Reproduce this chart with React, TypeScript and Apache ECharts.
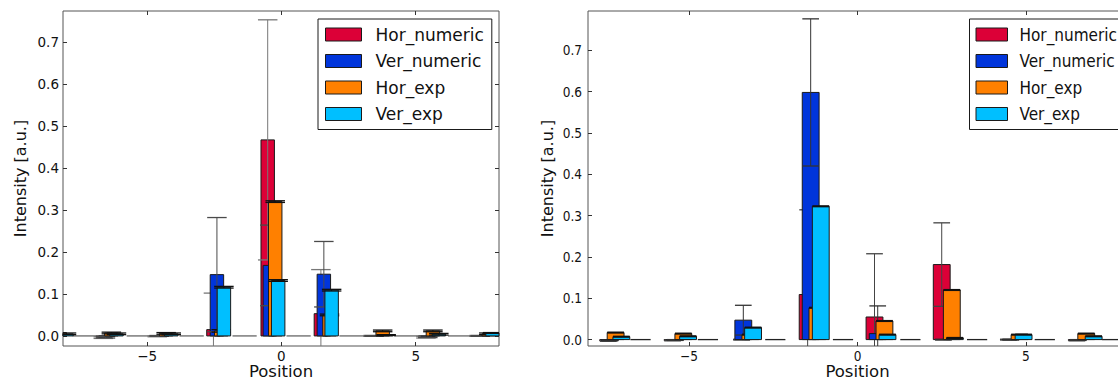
import React, { useEffect, useRef } from "react";
import * as echarts from "echarts";

// ---------- shared ----------
const SERIES_NAMES = ["Hor_numeric", "Ver_numeric", "Hor_exp", "Ver_exp"];
const COLORS = ["#DC0037", "#0035DB", "#FF8000", "#00BFFF"];
const X_TICKS = [-5, 0, 5];
const Y_TICKS = [0, 0.1, 0.2, 0.3, 0.4, 0.5, 0.6, 0.7];
const X_NAME = "Position";
const Y_NAME = "Intensity [a.u.]";

// ---------- left panel (x = bar left edge, v = value, e = error) ----------
const L_HN_X = [-8.74, -6.88, -4.87, -2.78, -0.76, 1.22, 3.15, 5.13, 7.1];
const L_HN_V = [0.003, -0.004, -0.001, 0.015, 0.467, 0.053, 0.0, -0.003, 0.0];
const L_HN_E = [0.002, 0.002, 0.001, 0.087, 0.286, 0.105, 0.001, 0.002, 0.001];
const L_VN_X = [-8.7, -6.8, -4.8, -2.65, -0.68, 1.33, 3.2, 5.2, 7.15];
const L_VN_V = [0.002, -0.003, 0.0, 0.146, 0.168, 0.147, 0.0, -0.002, 0.0];
const L_VN_E = [0.002, 0.002, 0.001, 0.136, 0.096, 0.078, 0.001, 0.002, 0.001];
const L_HE_X = [-8.5, -6.58, -4.54, -2.49, -0.48, 1.54, 3.52, 5.39, 7.47];
const L_HE_V = [0.008, 0.007, 0.006, 0.012, 0.32, 0.05, 0.012, 0.012, 0.005];
const L_HE_E = [0.002, 0.002, 0.002, 0.003, 0.002, 0.002, 0.002, 0.002, 0.002];
const L_VE_X = [-8.25, -6.39, -4.35, -2.39, -0.37, 1.62, 3.65, 5.61, 7.61];
const L_VE_V = [0.005, 0.005, 0.005, 0.116, 0.132, 0.109, 0.002, 0.004, 0.007];
const L_VE_E = [0.002, 0.002, 0.002, 0.002, 0.002, 0.002, 0.001, 0.002, 0.001];
const L_ZERO_X = [-7.77, -5.76, -3.79, -1.82, 0.19, 2.16, 4.2, 6.2];
const L_ZERO_V = [0, 0, 0, 0, 0, 0, 0, 0];

// ---------- right panel ----------
const R_HN_X = [-7.65, -5.74, -3.69, -1.73, 0.255, 2.25, 4.23, 6.26];
const R_HN_V = [-0.003, -0.002, 0.0, 0.109, 0.0547, 0.1815, 0.0, -0.002];
const R_HN_E = [0.001, 0.001, 0.001, 0.205, 0.153, 0.101, 0.001, 0.001];
const R_VN_X = [-7.6, -5.66, -3.64, -1.64, 0.35, 2.3, 4.3, 6.3];
const R_VN_V = [-0.002, -0.001, 0.047, 0.598, 0.0145, 0.0, 0.0, -0.001];
const R_VN_E = [0.001, 0.001, 0.036, 0.178, 0.067, 0.001, 0.001, 0.001];
const R_HE_X = [-7.43, -5.42, -3.43, -1.44, 0.55, 2.55, 4.56, 6.54];
const R_HE_V = [0.017, 0.0145, 0.012, 0.077, 0.045, 0.12, 0.012, 0.0145];
const R_HE_E = [0.001, 0.001, 0.001, 0.001, 0.001, 0.001, 0.001, 0.001];
const R_VE_X = [-7.26, -5.28, -3.35, -1.34, 0.64, 2.64, 4.68, 6.76];
const R_VE_V = [0.007, 0.008, 0.029, 0.3225, 0.012, 0.004, 0.012, 0.008];
const R_VE_E = [0.001, 0.001, 0.001, 0.001, 0.001, 0.001, 0.001, 0.001];
const R_ZERO_X = [-6.74, -4.74, -2.74, -0.73, 1.27, 3.25, 5.26, 7.26];
const R_ZERO_V = [0, 0, 0, 0, 0, 0, 0, 0];

const BAR_W = 0.5;
const L_ZERO_W = 0.9;
const R_ZERO_W = 0.6;

const FONT = "'DejaVu Sans', sans-serif";
const FONT_R = "'DejaVu Sans Condensed', 'DejaVu Sans', sans-serif";

function clipRect(r: any, cs: any) {
  const x = Math.max(r.x, cs.x);
  const x2 = Math.min(r.x + r.width, cs.x + cs.width);
  const y = Math.max(r.y, cs.y);
  const y2 = Math.min(r.y + r.height, cs.y + cs.height);
  if (x2 < x || y2 < y) return null;
  return { x, y, width: x2 - x, height: y2 - y };
}

function barRender(errColor: string, capPx: number) {
  return (params: any, api: any) => {
    const x = api.value(0);
    const v = api.value(1);
    const e = api.value(2);
    const w = api.value(3);
    const cs = params.coordSys;
    const a = api.coord([x, 0]);
    const b = api.coord([x + w, v]);
    const children: any[] = [];
    const r = clipRect(
      { x: a[0], y: Math.min(a[1], b[1]), width: b[0] - a[0], height: Math.abs(b[1] - a[1]) },
      cs
    );
    if (r) {
      children.push({
        type: "rect",
        shape: r,
        style: { fill: api.visual("color"), stroke: "#1a1a1a", lineWidth: 1 },
      });
    }
    const xc = api.coord([x + w / 2, 0])[0];
    const yTop = api.coord([0, v + e])[1];
    const yBot = api.coord([0, v - e])[1];
    const yMin = cs.y;
    const yMax = cs.y + cs.height;
    if (xc >= cs.x && xc <= cs.x + cs.width) {
      const y1 = Math.max(yMin, Math.min(yMax, yTop));
      const y2 = Math.max(yMin, Math.min(yMax, yBot));
      children.push({
        type: "line",
        shape: { x1: xc, y1, x2: xc, y2 },
        style: { stroke: errColor, lineWidth: 1 },
      });
      const cx1 = Math.max(cs.x, xc - capPx / 2);
      const cx2 = Math.min(cs.x + cs.width, xc + capPx / 2);
      [yTop, yBot].forEach((yy) => {
        if (yy >= yMin && yy <= yMax) {
          children.push({
            type: "line",
            shape: { x1: cx1, y1: yy, x2: cx2, y2: yy },
            style: { stroke: errColor, lineWidth: 1.3 },
          });
        }
      });
    }
    return { type: "group", children };
  };
}

function zeroRender(color: string) {
  return (params: any, api: any) => {
    const x = api.value(0);
    const v = api.value(1);
    const w = api.value(2);
    const cs = params.coordSys;
    const a = api.coord([x, v]);
    const b = api.coord([x + w, v]);
    const x1 = Math.max(cs.x, a[0]);
    const x2 = Math.min(cs.x + cs.width, b[0]);
    if (x2 <= x1) return { type: "group", children: [] };
    return {
      type: "line",
      shape: { x1, y1: a[1], x2, y2: b[1] },
      style: { stroke: color, lineWidth: 1.3 },
    };
  };
}

const fmtX = (v: number) => (v < 0 ? "\u2212" + Math.abs(v) : String(v));
const fmtY = (v: number) => v.toFixed(1);

function axesFor(
  gi: number,
  xr: [number, number],
  yr: [number, number],
  font: string,
  yNameGap: number,
  xLabelMargin: number,
  yLabelMargin: number
) {
  const tick = { show: true, inside: true, length: 4, lineStyle: { color: "#333", width: 1 } };
  const label = { fontFamily: font, fontSize: 13.5, color: "#111" };
  const noLine = { show: false, onZero: false };
  const xAxes = [
    {
      type: "value", gridIndex: gi, min: xr[0], max: xr[1], position: "bottom",
      axisLine: noLine, splitLine: { show: false },
      axisTick: { ...tick, customValues: X_TICKS },
      axisLabel: { ...label, margin: xLabelMargin, customValues: X_TICKS, formatter: fmtX },
      name: X_NAME, nameLocation: "middle", nameGap: 17, nameMoveOverlap: false,
      nameTextStyle: { fontFamily: FONT, fontSize: 16.5, color: "#111", verticalAlign: "top" },
    },
    {
      type: "value", gridIndex: gi, min: xr[0], max: xr[1], position: "top",
      axisLine: noLine, splitLine: { show: false },
      axisTick: { ...tick, customValues: X_TICKS },
      axisLabel: { show: false, customValues: X_TICKS },
    },
  ];
  const yAxes = [
    {
      type: "value", gridIndex: gi, min: yr[0], max: yr[1], position: "left",
      axisLine: noLine, splitLine: { show: false },
      axisTick: { ...tick, customValues: Y_TICKS },
      axisLabel: { ...label, margin: yLabelMargin, customValues: Y_TICKS, formatter: fmtY },
      name: Y_NAME, nameLocation: "middle", nameGap: yNameGap, nameRotate: 90, nameMoveOverlap: false,
      nameTextStyle: { fontFamily: FONT, fontSize: 16, color: "#111" },
    },
    {
      type: "value", gridIndex: gi, min: yr[0], max: yr[1], position: "right",
      axisLine: noLine, splitLine: { show: false },
      axisTick: { ...tick, customValues: Y_TICKS },
      axisLabel: { show: false, customValues: Y_TICKS },
    },
  ];
  return { xAxes, yAxes };
}

function panelSeries(
  axisIdx: number,
  xs: number[][],
  vs: number[][],
  es: number[][],
  errColors: string[],
  capPx: number,
  zeroX: number[],
  zeroV: number[],
  zeroW: number,
  zeroColor: string
) {
  const out: any[] = [
    {
      type: "custom",
      name: "zero",
      xAxisIndex: axisIdx,
      yAxisIndex: axisIdx,
      renderItem: zeroRender(zeroColor),
      data: zeroX.map((x, i) => [x, zeroV[i], zeroW]),
      silent: true,
      z: 1,
    },
  ];
  SERIES_NAMES.forEach((name, s) => {
    out.push({
      type: "custom",
      name,
      xAxisIndex: axisIdx,
      yAxisIndex: axisIdx,
      itemStyle: { color: COLORS[s], borderColor: "#1a1a1a", borderWidth: 1 },
      renderItem: barRender(errColors[s], capPx),
      data: xs[s].map((x, i) => [x, vs[s][i], es[s][i], BAR_W]),
      z: 2 + s,
    });
  });
  return out;
}

function legendFor(left: number, font: string, fontSize: number, itemW: number, textPad: number, padL: number) {
  return {
    show: true,
    orient: "vertical",
    left,
    top: 19,
    data: SERIES_NAMES,
    icon: "rect",
    itemWidth: itemW,
    itemHeight: 13,
    itemGap: 9.5,
    padding: [7, 8, 7, padL],
    borderColor: "#1a1a1a",
    borderWidth: 1,
    borderRadius: 0,
    backgroundColor: "#ffffff",
    selectedMode: false,
    itemStyle: { borderColor: "#1a1a1a", borderWidth: 1 },
    textStyle: {
      fontFamily: font,
      fontSize,
      lineHeight: 17,
      color: "#111",
      padding: [0, 0, 0, textPad],
    },
  };
}

function buildOption() {
  const L = axesFor(0, [-8.13, 8.1], [-0.024, 0.774], FONT, 35, 3, 4);
  const R = axesFor(1, [-8, 8], [-0.0155, 0.795], FONT_R, 33, 3, 6);
  const series = [
    ...panelSeries(
      0,
      [L_HN_X, L_VN_X, L_HE_X, L_VE_X],
      [L_HN_V, L_VN_V, L_HE_V, L_VE_V],
      [L_HN_E, L_VN_E, L_HE_E, L_VE_E],
      ["#777777", "#4a4a4a", "#111111", "#111111"],
      19.5,
      L_ZERO_X,
      L_ZERO_V,
      L_ZERO_W,
      "#666666"
    ),
    ...panelSeries(
      2,
      [R_HN_X, R_VN_X, R_HE_X, R_VE_X],
      [R_HN_V, R_VN_V, R_HE_V, R_VE_V],
      [R_HN_E, R_VN_E, R_HE_E, R_VE_E],
      ["#444444", "#333333", "#111111", "#111111"],
      16.7,
      R_ZERO_X,
      R_ZERO_V,
      R_ZERO_W,
      "#222222"
    ),
  ];
  const gridBase = {
    top: 11, height: 335, show: true, borderColor: "#555", borderWidth: 1,
    backgroundColor: "transparent", containLabel: false, outerBoundsMode: "none",
  };
  return {
    animation: false,
    backgroundColor: "#ffffff",
    grid: [
      { ...gridBase, left: 63, width: 436 },
      { ...gridBase, left: 588, width: 539 },
    ],
    xAxis: [...L.xAxes, ...R.xAxes],
    yAxis: [...L.yAxes, ...R.yAxes],
    legend: [
      legendFor(318, FONT, 17, 36, 9, 7),
      legendFor(969.5, FONT_R, 17, 31.5, 7, 6),
    ],
    series,
  };
}

export default function App() {
  const ref = useRef<HTMLDivElement>(null);
  useEffect(() => {
    if (!ref.current) return;
    const chart = echarts.init(ref.current, null, { renderer: "svg" });
    chart.setOption(buildOption() as any);
    return () => chart.dispose();
  }, []);
  return (
    <div
      ref={ref}
      style={{ position: "fixed", left: 0, top: 0, width: 1118, height: 381, background: "#fff" }}
    />
  );
}
